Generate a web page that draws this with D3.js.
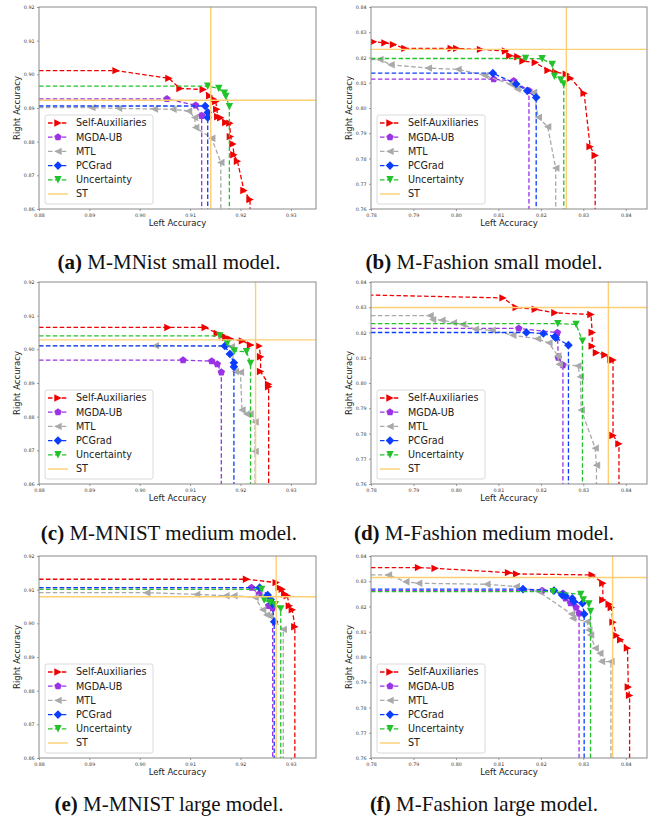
<!DOCTYPE html>
<html lang="en">
<head>
<meta charset="UTF-8"/>
<script src="https://d3js.org/d3.v7.min.js"></script>
<style>
  body { margin: 0; background: #fff; }
  svg { display: block; }
</style>
</head>
<body>
<svg width="652" height="822"></svg>
<script>
// ---- values ----
const methods = ["Self-Auxiliaries", "MGDA-UB", "MTL", "PCGrad", "Uncertainty", "ST"];

const mnistXLim = [0.88, 0.935], mnistYLim = [0.86, 0.92];
const fashionXLim = [0.78, 0.845], fashionYLim = [0.76, 0.84];
const mnistXTicks = [0.88, 0.89, 0.90, 0.91, 0.92, 0.93];
const mnistYTicks = [0.86, 0.87, 0.88, 0.89, 0.90, 0.91, 0.92];
const fashionXTicks = [0.78, 0.79, 0.80, 0.81, 0.82, 0.83, 0.84];
const fashionYTicks = [0.76, 0.77, 0.78, 0.79, 0.80, 0.81, 0.82, 0.83, 0.84];

const captions = [
  ["(a)", " M-MNist small model."], ["(b)", " M-Fashion small model."],
  ["(c)", " M-MNIST medium model."], ["(d)", " M-Fashion medium model."],
  ["(e)", " M-MNIST large model."], ["(f)", " M-Fashion large model."]
];

// (a) M-MNist small
const mnistSmallSelf = [[0.8953,0.9011],[0.9058,0.8988],[0.9080,0.8958],[0.9126,0.8955],[0.9139,0.8936],[0.9147,0.8926],[0.9151,0.8919],[0.9153,0.8896],[0.9155,0.8874],[0.9161,0.8871],[0.9171,0.8857],[0.9179,0.8855],[0.9180,0.8815],[0.9185,0.8793],[0.9187,0.8761],[0.9194,0.8742],[0.9207,0.8655],[0.9219,0.8628]];
const mnistSmallMgda = [[0.9054,0.8927],[0.9111,0.8908],[0.9123,0.8877]];
const mnistSmallMtl = [[0.8905,0.8901],[0.8958,0.8899],[0.9029,0.8897],[0.9066,0.8896],[0.9097,0.8891],[0.9109,0.8872],[0.9111,0.8842],[0.9143,0.8810],[0.9161,0.8738]];
const mnistSmallPc = [[0.9130,0.8906],[0.9135,0.8887],[0.9135,0.8872]];
const mnistSmallUnc = [[0.9135,0.8965],[0.9157,0.8958],[0.9168,0.8944],[0.9171,0.8934],[0.9178,0.8904]];
const mnistSmallSt = [0.9141, 0.8923];

// (b) M-Fashion small
const fashionSmallSelf = [[0.7806,0.8262],[0.7833,0.8258],[0.7853,0.8251],[0.7880,0.8236],[0.7989,0.8236],[0.8002,0.8236],[0.8058,0.8232],[0.8117,0.8226],[0.8127,0.8207],[0.8146,0.8203],[0.8158,0.8186],[0.8187,0.8180],[0.8217,0.8149],[0.8235,0.8142],[0.8260,0.8134],[0.8270,0.8118],[0.8302,0.8058],[0.8316,0.7847],[0.8328,0.7812]];
const fashionSmallMgda = [[0.8089,0.8114],[0.8136,0.8107],[0.8172,0.8068]];
const fashionSmallMtl = [[0.7821,0.8192],[0.7847,0.8171],[0.7935,0.8158],[0.8005,0.8153],[0.8068,0.8129],[0.8128,0.8095],[0.8144,0.8075],[0.8183,0.8062],[0.8194,0.7963],[0.8216,0.7926],[0.8235,0.7762]];
const fashionSmallPc = [[0.8087,0.8138],[0.8142,0.8095],[0.8168,0.8068],[0.8189,0.8042]];
const fashionSmallUnc = [[0.8164,0.8196],[0.8203,0.8195],[0.8227,0.8172],[0.8232,0.8126],[0.8247,0.8111],[0.8254,0.8095]];
const fashionSmallSt = [0.8260, 0.8232];

// (c) M-MNIST medium
const mnistMediumSelf = [[0.9056,0.9065],[0.9130,0.9065],[0.9154,0.9047],[0.9164,0.9042],[0.9171,0.9035],[0.9180,0.9031],[0.9204,0.9025],[0.9220,0.9013],[0.9237,0.9010],[0.9240,0.8978],[0.9240,0.8934],[0.9256,0.8896],[0.9256,0.8889]];
const mnistMediumMgda = [[0.9086,0.8968],[0.9143,0.8965],[0.9154,0.8956],[0.9162,0.8932]];
const mnistMediumMtl = [[0.9031,0.9011],[0.9182,0.9008],[0.9190,0.8934],[0.9200,0.8932],[0.9203,0.8820],[0.9212,0.8808],[0.9219,0.8808],[0.9229,0.8784],[0.9229,0.8697]];
const mnistMediumPc = [[0.9169,0.9010],[0.9179,0.8986],[0.9187,0.8960],[0.9187,0.8948]];
const mnistMediumUnc = [[0.9159,0.9040],[0.9174,0.9018],[0.9188,0.8995],[0.9212,0.8993],[0.9220,0.8958]];
const mnistMediumSt = [0.9230, 0.9028];

// (d) M-Fashion medium
const fashionMediumSelf = [[0.7700,0.8352],[0.8111,0.8337],[0.8142,0.8299],[0.8187,0.8292],[0.8233,0.8278],[0.8318,0.8271],[0.8321,0.8200],[0.8321,0.8146],[0.8331,0.8120],[0.8351,0.8111],[0.8365,0.8093],[0.8370,0.8091],[0.8370,0.7792],[0.8384,0.7759]];
const fashionMediumMgda = [[0.8148,0.8216],[0.8239,0.8199],[0.8241,0.8101],[0.8252,0.8071]];
const fashionMediumMtl = [[0.7939,0.8267],[0.7945,0.8251],[0.7967,0.8249],[0.7994,0.8239],[0.8016,0.8232],[0.8046,0.8213],[0.8085,0.8209],[0.8134,0.8189],[0.8192,0.8175],[0.8219,0.8159],[0.8240,0.8107],[0.8243,0.8074],[0.8287,0.8068],[0.8293,0.8025],[0.8295,0.7893],[0.8328,0.7742],[0.8331,0.7674]];
const fashionMediumPc = [[0.8166,0.8200],[0.8206,0.8196],[0.8233,0.8183],[0.8235,0.8179],[0.8265,0.8150]];
const fashionMediumUnc = [[0.8240,0.8235],[0.8283,0.8232],[0.8298,0.8166]];
const fashionMediumSt = [0.8359, 0.8299];

// (e) M-MNIST large
const mnistLargeSelf = [[0.9212,0.9131],[0.9271,0.9121],[0.9277,0.9106],[0.9283,0.9101],[0.9288,0.9087],[0.9293,0.9082],[0.9297,0.9052],[0.9303,0.9040],[0.9308,0.8990]];
const mnistLargeMgda = [[0.9222,0.9106],[0.9237,0.9087],[0.9256,0.9052],[0.9264,0.9045]];
const mnistLargeMtl = [[0.9014,0.9091],[0.9113,0.9086],[0.9171,0.9082],[0.9187,0.9082],[0.9229,0.9077],[0.9244,0.9040],[0.9252,0.9025],[0.9258,0.9022],[0.9285,0.8982]];
const mnistLargePc = [[0.9238,0.9106],[0.9254,0.9084],[0.9260,0.9071],[0.9263,0.9059],[0.9267,0.9005]];
const mnistLargeUnc = [[0.9242,0.9101],[0.9247,0.9069],[0.9259,0.9062],[0.9269,0.9055],[0.9280,0.9043]];
const mnistLargeSt = [0.9271, 0.9079];

// (f) M-Fashion large
const fashionLargeSelf = [[0.7912,0.8354],[0.7951,0.8351],[0.8124,0.8334],[0.8143,0.8329],[0.8321,0.8325],[0.8346,0.8292],[0.8346,0.8226],[0.8361,0.8209],[0.8366,0.8196],[0.8370,0.8138],[0.8378,0.8085],[0.8388,0.8068],[0.8404,0.8035],[0.8406,0.7881],[0.8409,0.7848]];
const fashionLargeMgda = [[0.8203,0.8263],[0.8252,0.8252],[0.8258,0.8232],[0.8270,0.8213],[0.8283,0.8196],[0.8290,0.8173]];
const fashionLargeMtl = [[0.7841,0.8325],[0.7882,0.8298],[0.7912,0.8292],[0.8073,0.8288],[0.8142,0.8279],[0.8195,0.8259],[0.8272,0.8170],[0.8275,0.8153],[0.8309,0.8140],[0.8313,0.8107],[0.8317,0.8087],[0.8328,0.8035],[0.8339,0.8015],[0.8343,0.7982],[0.8365,0.7982]];
const fashionLargePc = [[0.8158,0.8269],[0.8231,0.8263],[0.8250,0.8246],[0.8258,0.8242],[0.8274,0.8232],[0.8278,0.8219],[0.8298,0.8213],[0.8302,0.8170]];
const fashionLargeUnc = [[0.8229,0.8259],[0.8294,0.8248],[0.8300,0.8226],[0.8313,0.8210],[0.8317,0.8180]];
const fashionLargeSt = [0.8369, 0.8315];

// ---- styles ----
const colors = ["#f00000", "#9a32e6", "#a9a9a9", "#0b3dff", "#22c22a", "#fdcf72"];
const markers = ["right", "pentagon", "left", "diamond", "down", null];
const markerSize = {right: 3.7, left: 3.7, down: 3.7, pentagon: 3.9, diamond: 4.3};

const cols = [[39, 316], [371, 647]];
const rows = [[7, 209], [282, 484], [556, 758]];
const capY = [269, 540, 811];
const capX = [169, 484];

const panels = [
  {c: 0, r: 0, xlim: mnistXLim, ylim: mnistYLim, xt: mnistXTicks, yt: mnistYTicks,
   series: [mnistSmallSelf, mnistSmallMgda, mnistSmallMtl, mnistSmallPc, mnistSmallUnc], st: mnistSmallSt},
  {c: 1, r: 0, xlim: fashionXLim, ylim: fashionYLim, xt: fashionXTicks, yt: fashionYTicks,
   series: [fashionSmallSelf, fashionSmallMgda, fashionSmallMtl, fashionSmallPc, fashionSmallUnc], st: fashionSmallSt},
  {c: 0, r: 1, xlim: mnistXLim, ylim: mnistYLim, xt: mnistXTicks, yt: mnistYTicks,
   series: [mnistMediumSelf, mnistMediumMgda, mnistMediumMtl, mnistMediumPc, mnistMediumUnc], st: mnistMediumSt},
  {c: 1, r: 1, xlim: fashionXLim, ylim: fashionYLim, xt: fashionXTicks, yt: fashionYTicks,
   series: [fashionMediumSelf, fashionMediumMgda, fashionMediumMtl, fashionMediumPc, fashionMediumUnc], st: fashionMediumSt},
  {c: 0, r: 2, xlim: mnistXLim, ylim: mnistYLim, xt: mnistXTicks, yt: mnistYTicks,
   series: [mnistLargeSelf, mnistLargeMgda, mnistLargeMtl, mnistLargePc, mnistLargeUnc], st: mnistLargeSt},
  {c: 1, r: 2, xlim: fashionXLim, ylim: fashionYLim, xt: fashionXTicks, yt: fashionYTicks,
   series: [fashionLargeSelf, fashionLargeMgda, fashionLargeMtl, fashionLargePc, fashionLargeUnc], st: fashionLargeSt}
];

// marker shapes like matplotlib's >, p, <, D, v
function markerPath(kind) {
  const r = markerSize[kind];
  const p = d3.path();
  if (kind === "right") { p.moveTo(r, 0); p.lineTo(-r, -r); p.lineTo(-r, r); }
  else if (kind === "left") { p.moveTo(-r, 0); p.lineTo(r, -r); p.lineTo(r, r); }
  else if (kind === "down") { p.moveTo(0, r); p.lineTo(-r, -r); p.lineTo(r, -r); }
  else if (kind === "diamond") { p.moveTo(0, -r); p.lineTo(r, 0); p.lineTo(0, r); p.lineTo(-r, 0); }
  else if (kind === "pentagon") {
    for (let i = 0; i < 5; i++) {
      const a = -Math.PI / 2 + i * 2 * Math.PI / 5;
      if (i === 0) p.moveTo(r * Math.cos(a), r * Math.sin(a));
      else p.lineTo(r * Math.cos(a), r * Math.sin(a));
    }
  }
  p.closePath();
  return p.toString();
}

const svg = d3.select("svg");
const fmt = d3.format(".2f");

panels.forEach((pn, k) => {
  const [x0, x1] = cols[pn.c], [y0, y1] = rows[pn.r];
  const x = d3.scaleLinear().domain(pn.xlim).range([x0, x1]);
  const y = d3.scaleLinear().domain(pn.ylim).range([y1, y0]);
  const g = svg.append("g");

  const clipId = "clip" + k;
  g.append("clipPath").attr("id", clipId)
    .append("rect").attr("x", x0).attr("y", y0).attr("width", x1 - x0).attr("height", y1 - y0);

  // axes
  const ax = g.append("g").attr("transform", `translate(0,${y1})`)
    .call(d3.axisBottom(x).tickValues(pn.xt).tickFormat(fmt).tickSize(2).tickPadding(2.5));
  const ay = g.append("g").attr("transform", `translate(${x0},0)`)
    .call(d3.axisLeft(y).tickValues(pn.yt).tickFormat(fmt).tickSize(2).tickPadding(2.5));
  [ax, ay].forEach(a => {
    a.select(".domain").remove();
    a.selectAll("line").attr("stroke", "#555").attr("stroke-width", 0.6);
    a.selectAll("text").attr("font-family", "DejaVu Sans").attr("font-size", 4.8).attr("fill", "#333");
  });

  g.append("text").attr("x", (x0 + x1) / 2).attr("y", y1 + 17)
    .attr("text-anchor", "middle").attr("font-family", "DejaVu Sans").attr("font-size", 8.5)
    .attr("fill", "#222").text("Left Accuracy");
  g.append("text").attr("transform", `translate(${x0 - 19},${(y0 + y1) / 2}) rotate(-90)`)
    .attr("text-anchor", "middle").attr("font-family", "DejaVu Sans").attr("font-size", 8.5)
    .attr("fill", "#222").text("Right Accuracy");

  const plot = g.append("g").attr("clip-path", `url(#${clipId})`);
  const line = d3.line().x(d => x(d[0])).y(d => y(d[1]));

  pn.series.forEach((s, i) => {
    // dashed staircase: from left edge, through the points, down to the bottom
    const pts = [[pn.xlim[0], s[0][1]], ...s, [s[s.length - 1][0], pn.ylim[0]]];
    plot.append("path").attr("d", line(pts)).attr("fill", "none")
      .attr("stroke", colors[i]).attr("stroke-width", 1.3).attr("stroke-dasharray", "4.5,2.4");
    plot.selectAll(null).data(s).enter().append("path")
      .attr("d", markerPath(markers[i]))
      .attr("transform", d => `translate(${x(d[0])},${y(d[1])})`)
      .attr("fill", colors[i]);
  });

  // ST reference lines
  plot.append("path").attr("d", line([[pn.st[0], pn.ylim[0]], [pn.st[0], pn.ylim[1]]]))
    .attr("stroke", colors[5]).attr("stroke-width", 1.4);
  plot.append("path").attr("d", line([[pn.xlim[0], pn.st[1]], [pn.xlim[1], pn.st[1]]]))
    .attr("stroke", colors[5]).attr("stroke-width", 1.4);

  g.append("rect").attr("x", x0).attr("y", y0).attr("width", x1 - x0).attr("height", y1 - y0)
    .attr("fill", "none").attr("stroke", "#8a8a8a").attr("stroke-width", 1);

  // legend
  const lx = x0 + 6, ly = y1 - 94;
  const leg = g.append("g");
  leg.append("rect").attr("x", lx).attr("y", ly).attr("width", 108).attr("height", 89)
    .attr("rx", 2).attr("fill", "#fff").attr("fill-opacity", 0.85)
    .attr("stroke", "#d0d0d0").attr("stroke-width", 0.8);
  methods.forEach((m, i) => {
    const cy = ly + 8 + i * 14.2;
    leg.append("line").attr("x1", lx + 3).attr("x2", lx + 23).attr("y1", cy).attr("y2", cy)
      .attr("stroke", colors[i]).attr("stroke-width", i === 5 ? 1.4 : 1.3)
      .attr("stroke-dasharray", i === 5 ? null : "4.5,2.4");
    if (markers[i]) {
      leg.append("path").attr("d", markerPath(markers[i]))
        .attr("transform", `translate(${lx + 13},${cy})`).attr("fill", colors[i]);
    }
    leg.append("text").attr("x", lx + 31).attr("y", cy).attr("dy", "0.35em")
      .attr("font-family", "DejaVu Sans").attr("font-size", 9.6).attr("fill", "#222").text(m);
  });

  // caption
  const cap = svg.append("text").attr("x", capX[pn.c]).attr("y", capY[pn.r])
    .attr("text-anchor", "middle").attr("font-family", "Liberation Serif").attr("font-size", 21)
    .attr("fill", "#111");
  cap.append("tspan").attr("font-weight", "bold").text(captions[k][0]);
  cap.append("tspan").text(captions[k][1]);
});
</script>
</body>
</html>
